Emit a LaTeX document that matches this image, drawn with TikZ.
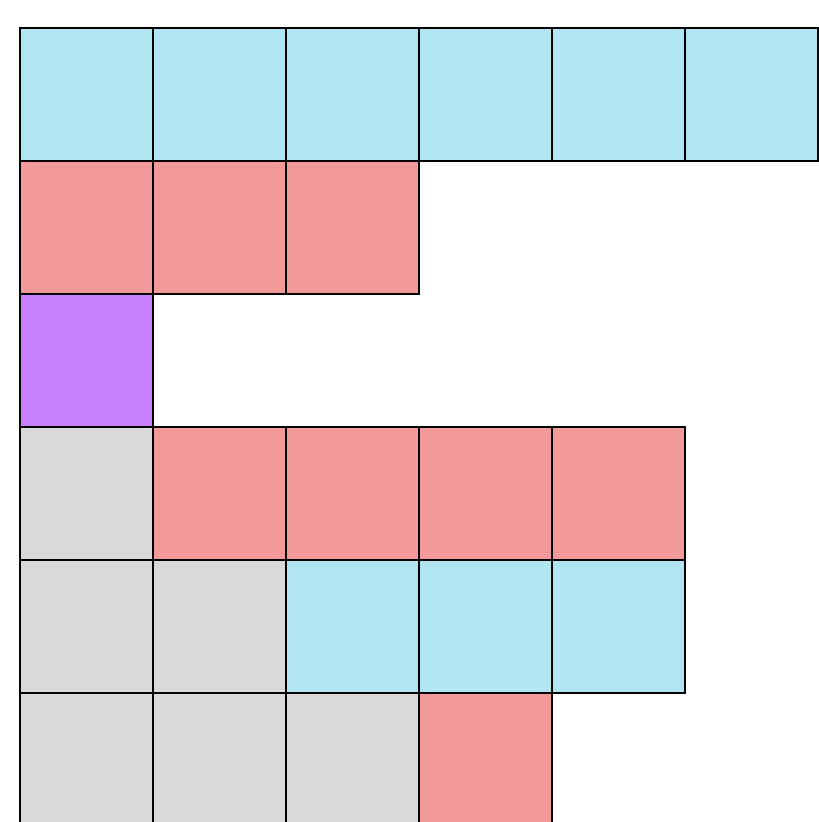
\documentclass[tikz,border=0pt]{standalone}
\definecolor{cblue}{HTML}{B2E5F2}
\definecolor{cred}{HTML}{F19A99}
\definecolor{cpurple}{HTML}{C880FF}
\definecolor{cgray}{HTML}{D9D9D9}
\tikzset{cell/.style={draw=black,line width=0.3pt}}
\begin{document}
\begin{tikzpicture}
\useasboundingbox (-0.1504,0.2105) rectangle (6.0075,-5.970);
\clip (-0.1504,0.2105) rectangle (6.0075,-5.970);
% row 0
\foreach \c in {0,...,5} {\filldraw[cell,fill=cblue] (\c,0) rectangle ++(1,-1);}
% row 1
\foreach \c in {0,1,2} {\filldraw[cell,fill=cred] (\c,-1) rectangle ++(1,-1);}
% row 2
\filldraw[cell,fill=cpurple] (0,-2) rectangle ++(1,-1);
% row 3
\filldraw[cell,fill=cgray] (0,-3) rectangle ++(1,-1);
\foreach \c in {1,...,4} {\filldraw[cell,fill=cred] (\c,-3) rectangle ++(1,-1);}
% row 4
\foreach \c in {0,1} {\filldraw[cell,fill=cgray] (\c,-4) rectangle ++(1,-1);}
\foreach \c in {2,3,4} {\filldraw[cell,fill=cblue] (\c,-4) rectangle ++(1,-1);}
% row 5
\foreach \c in {0,1,2} {\filldraw[cell,fill=cgray] (\c,-5) rectangle ++(1,-1);}
\filldraw[cell,fill=cred] (3,-5) rectangle ++(1,-1);
\end{tikzpicture}
\end{document}
